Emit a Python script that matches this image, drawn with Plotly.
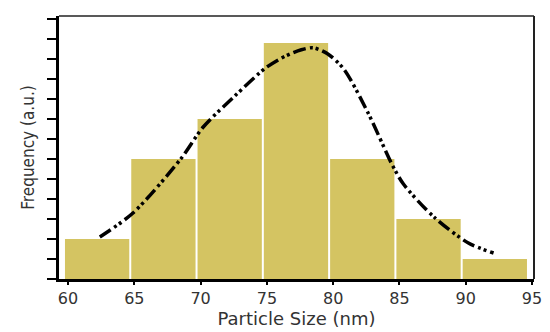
import plotly.graph_objects as go

bin_centers = [62.5, 67.5, 72.5, 77.5, 82.5, 87.5, 92.5]
frequency = [2, 6, 8, 11.8, 6, 3, 1]

curve_x = [62.4, 64.9, 68.5, 70.2, 72.5, 74.9, 76.4, 77.6, 78.5, 79.6, 80.8, 82.6, 84.5, 85.3, 87.6, 90.2, 92.1]
curve_y = [2.1, 3.3, 6.0, 7.6, 9.1, 10.55, 11.15, 11.46, 11.56, 11.25, 10.5, 8.35, 5.65, 4.75, 3.1, 1.8, 1.3]

x_ticks = [60, 65, 70, 75, 80, 85, 90, 95]

fig = go.Figure()
fig.add_trace(go.Bar(
    x=bin_centers, y=frequency, width=4.85, offset=-2.73,
    marker=dict(color="#D4C462", line=dict(width=0)),
    hoverinfo="skip", showlegend=False,
))
fig.add_trace(go.Scatter(
    x=curve_x, y=curve_y, mode="lines",
    line=dict(color="black", width=3.5, shape="spline", smoothing=0.8,
              dash="13px,4px,3px,3px,3px,4px"),
    showlegend=False,
))

# body has an 8px default margin, so the figure is sized to fit the 550x332 window
fig.update_layout(
    width=542, height=324,
    margin=dict(l=51, r=16, t=8, b=53, autoexpand=False),
    paper_bgcolor="white", plot_bgcolor="white",
    font=dict(family="DejaVu Sans", color="#333333"),
    xaxis=dict(
        range=[59.32, 95.15], tickvals=x_ticks, ticktext=[str(v) for v in x_ticks],
        ticks="outside", ticklen=3, tickwidth=2, tickcolor="black",
        showline=True, linewidth=2.5, linecolor="black", showgrid=False, zeroline=False,
        tickfont=dict(family="DejaVu Sans", size=16, color="#333333"), automargin=False,
        title=dict(text="Particle Size (nm)", font=dict(family="DejaVu Sans", size=18, color="#333333"), standoff=4),
    ),
    yaxis=dict(
        range=[0, 13.15], dtick=1, tick0=0, showticklabels=False,
        ticks="outside", ticklen=9, tickwidth=2, tickcolor="black",
        showline=True, linewidth=2.5, linecolor="black", showgrid=False, zeroline=False,
        automargin=False,
        title=dict(text="Frequency (a.u.)", font=dict(family="DejaVu Sans Condensed", size=17, color="#333333"), standoff=9),
    ),
    shapes=[
        dict(type="line", xref="paper", yref="paper", x0=0, x1=1, y0=1, y1=1, line=dict(color="#222222", width=1.5)),
        dict(type="line", xref="paper", yref="paper", x0=1, x1=1, y0=0, y1=1, line=dict(color="#222222", width=2)),
    ],
)

fig.write_html("out.html")
